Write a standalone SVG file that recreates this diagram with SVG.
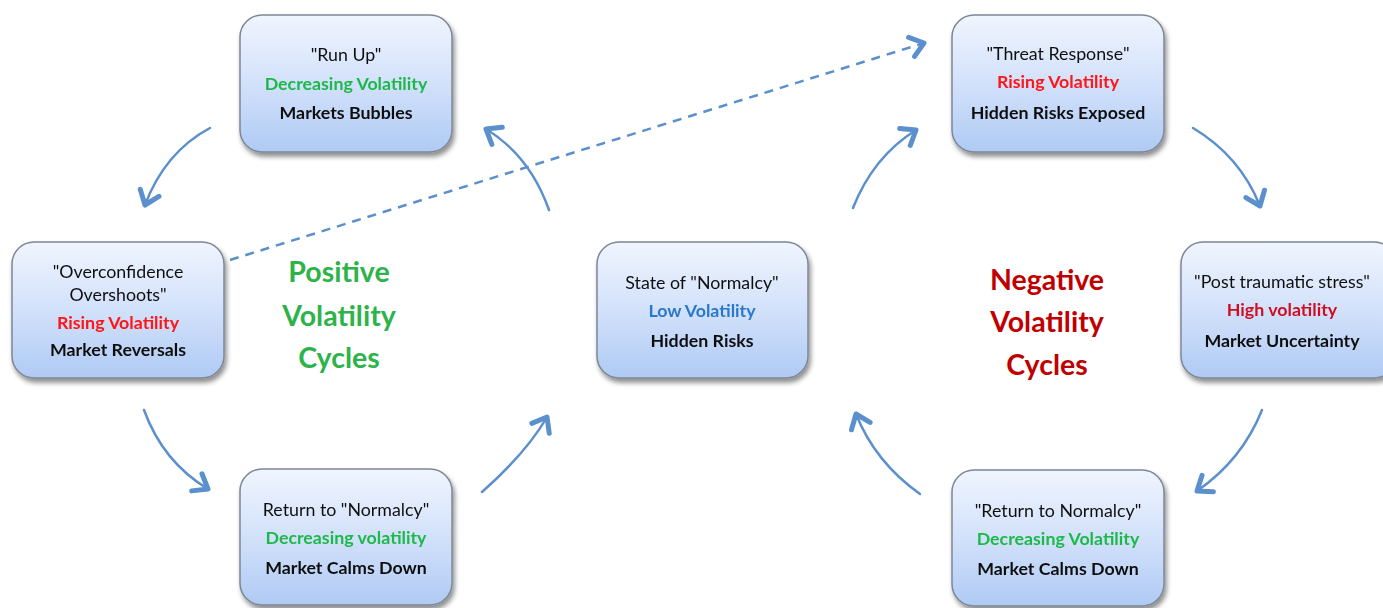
<svg xmlns="http://www.w3.org/2000/svg" width="1383" height="608" viewBox="0 0 1383 608">
<style>
.box{fill:url(#g);stroke:#7d8796;stroke-width:1.5}
.t{font-family:Lato,"Liberation Sans",sans-serif;font-size:17.8px;text-anchor:middle;fill:#111}
.b{font-weight:bold}
.gr{fill:#1fb84a}
.rd{fill:#ff1414}
.dr{fill:#d01020}
.bl{fill:#2a78cc}
.arr{fill:none;stroke:#5b90cc;stroke-width:2.5;stroke-linecap:round;marker-end:url(#ah)}
.big{font-family:Lato,"Liberation Sans",sans-serif;font-size:28.5px;font-weight:bold;text-anchor:middle}
</style>
<defs>
<linearGradient id="g" x1="0" y1="0" x2="0" y2="1">
<stop offset="0" stop-color="#f0f5fe"/>
<stop offset="0.55" stop-color="#cfdffa"/>
<stop offset="1" stop-color="#afcaf4"/>
</linearGradient>
<filter id="sh" x="-10%" y="-10%" width="125%" height="130%">
<feGaussianBlur in="SourceAlpha" stdDeviation="2.5"/>
<feOffset dx="2" dy="4"/>
<feComponentTransfer><feFuncA type="linear" slope="0.45"/></feComponentTransfer>
<feMerge><feMergeNode/><feMergeNode in="SourceGraphic"/></feMerge>
</filter>
<marker id="ah" markerUnits="userSpaceOnUse" markerWidth="30" markerHeight="30" refX="0" refY="0" viewBox="-20 -15 30 30" orient="auto" overflow="visible">
<path d="M-13,-10 L0,0 L-13,10" fill="none" stroke="#5b90cc" stroke-width="5" stroke-linecap="round" stroke-linejoin="round"/>
</marker>
</defs>
<rect width="1383" height="608" fill="#fff"/>

<g id="connectors">
<path class="arr" d="M210,128 Q165,152 145,205"/>
<path class="arr" d="M144,410 Q163,462 208,489"/>
<path class="arr" d="M482,492 Q527,452 547,417"/>
<path class="arr" d="M549,210 Q530,156 486,129"/>
<path class="arr" d="M853,208 Q873,157 916,130"/>
<path class="arr" d="M1193,128 Q1240,156 1260,206"/>
<path class="arr" d="M1262,410 Q1242,460 1197,491"/>
<path class="arr" d="M920,494 Q875,462 856,414"/>
<path d="M230,260 L924,43" fill="none" stroke="#5b90cc" stroke-width="2.5" stroke-dasharray="9,7" marker-end="url(#ah)"/>
</g>

<g id="run-up" filter="url(#sh)">
<rect class="box" x="240" y="15" width="212" height="137" rx="22"/>
<text class="t" x="346" y="61">"Run Up"</text>
<text class="t b gr" x="346" y="90">Decreasing Volatility</text>
<text class="t b" x="346" y="119">Markets Bubbles</text>
</g>

<g id="overconfidence" filter="url(#sh)">
<rect class="box" x="12" y="242" width="212" height="136" rx="22"/>
<text class="t" x="118" y="278">"Overconfidence</text>
<text class="t" x="118" y="301">Overshoots"</text>
<text class="t b rd" x="118" y="329">Rising Volatility</text>
<text class="t b" x="118" y="356">Market Reversals</text>
</g>

<g id="return-left" filter="url(#sh)">
<rect class="box" x="240" y="469" width="212" height="136" rx="22"/>
<text class="t" x="346" y="516">Return to "Normalcy"</text>
<text class="t b gr" x="346" y="544">Decreasing volatility</text>
<text class="t b" x="346" y="574">Market Calms Down</text>
</g>

<g id="normalcy" filter="url(#sh)">
<rect class="box" x="597" y="242" width="211" height="136" rx="22"/>
<text class="t" x="702" y="289">State of "Normalcy"</text>
<text class="t b bl" x="702" y="317">Low Volatility</text>
<text class="t b" x="702" y="347">Hidden Risks</text>
</g>

<g id="threat" filter="url(#sh)">
<rect class="box" x="952" y="15" width="212" height="137" rx="22"/>
<text class="t" x="1058" y="60">"Threat Response"</text>
<text class="t b rd" x="1058" y="88">Rising Volatility</text>
<text class="t b" x="1058" y="119">Hidden Risks Exposed</text>
</g>

<g id="post-traumatic" filter="url(#sh)">
<rect class="box" x="1181" y="242" width="215" height="136" rx="22"/>
<text class="t" x="1282" y="288">"Post traumatic stress"</text>
<text class="t b dr" x="1282" y="316">High volatility</text>
<text class="t b" x="1282" y="347">Market Uncertainty</text>
</g>

<g id="return-right" filter="url(#sh)">
<rect class="box" x="952" y="470" width="212" height="136" rx="22"/>
<text class="t" x="1058" y="517">"Return to Normalcy"</text>
<text class="t b gr" x="1058" y="545">Decreasing Volatility</text>
<text class="t b" x="1058" y="575">Market Calms Down</text>
</g>

<g id="positive-label">
<text class="big" x="339" y="282" fill="#2db34a">Positive</text>
<text class="big" x="339" y="326" fill="#2db34a">Volatility</text>
<text class="big" x="339" y="368" fill="#2db34a">Cycles</text>
</g>
<g id="negative-label">
<text class="big" x="1047" y="290" fill="#c00000">Negative</text>
<text class="big" x="1047" y="332" fill="#c00000">Volatility</text>
<text class="big" x="1047" y="375" fill="#c00000">Cycles</text>
</g>
</svg>
